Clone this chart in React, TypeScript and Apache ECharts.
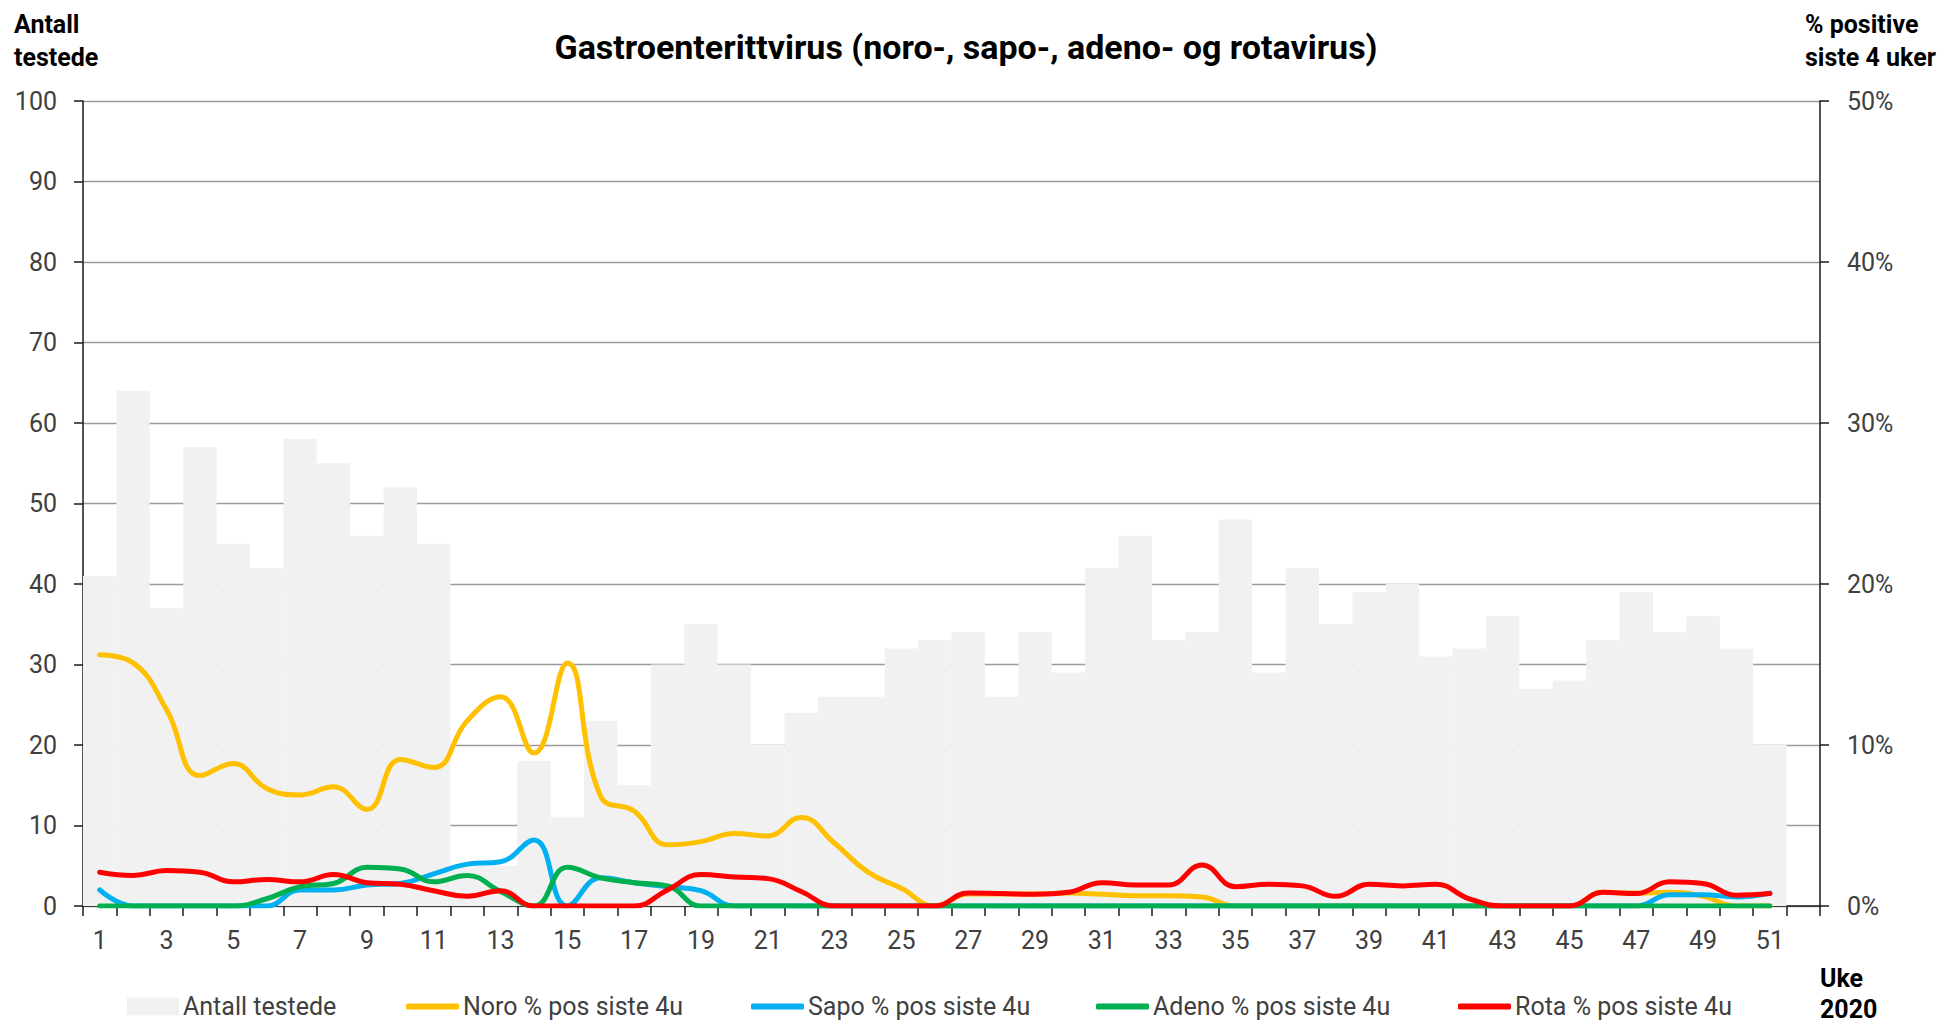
import React, { useEffect, useRef } from "react";
import * as echarts from "echarts";

const weeks = ["1","2","3","4","5","6","7","8","9","10","11","12","13","14","15","16","17","18","19","20","21","22","23","24","25","26","27","28","29","30","31","32","33","34","35","36","37","38","39","40","41","42","43","44","45","46","47","48","49","50","51","52"];

const antallTestede = [41,64,37,57,45,42,58,55,46,52, 45,5,5,18,11,23,15,30,35,30, 20,24,26,26,32,33,34,26,34,29, 42,46,33,34,48,29,42,35,39,40, 31,32,36,27,28,33,39,34,36,32, 20,null];

const noroPct = [15.6,15.1,12.2,8.1,8.85,7.3,6.9,7.4,6.0,9.1, 8.6,11.5,13.0,9.5,15.1,6.8,5.9,3.8,4.0,4.5, 4.35,5.5,3.9,2.1,1.1,0,0.75,0.75,0.75,0.8, 0.73,0.63,0.63,0.56,0,0,0,0,0,0, 0,0,0,0,0,0.85,0.8,0.85,0.6,0, 0,null];

const sapoPct = [1.0,0,0,0,0,0,1.0,1.0,1.3,1.4, 2.0,2.6,2.75,4.1,0,1.75,1.45,1.2,0.95,0, 0,0,0,0,0,0,0,0,0,0, 0,0,0,0,0,0,0,0,0,0, 0,0,0,0,0,0,0,0.7,0.7,0.56, 0.8,null];

const adenoPct = [0,0,0,0,0,0.45,1.2,1.4,2.4,2.3, 1.5,1.9,0.9,0,2.4,1.75,1.45,1.25,0,0, 0,0,0,0,0,0,0,0,0,0, 0,0,0,0,0,0,0,0,0,0, 0,0,0,0,0,0,0,0,0,0, 0,null];

const rotaPct = [2.1,1.9,2.2,2.1,1.5,1.65,1.5,1.95,1.45,1.35, 0.95,0.6,0.95,0,0,0,0,1.0,1.95,1.8, 1.7,0.9,0,0,0,0,0.8,0.77,0.73,0.85, 1.45,1.3,1.3,2.55,1.2,1.35,1.25,0.6,1.35,1.25, 1.35,0.45,0,0,0,0.85,0.77,1.5,1.4,0.67, 0.77,null];

const leftTicks = [0, 100, 10];
const rightTicks = [0, 50, 10];

const TITLE = "Gastroenterittvirus (noro-, sapo-, adeno- og rotavirus)";
const FONT = "Roboto";
const AXIS_COLOR = "#1a1a1a";
const LABEL_COLOR = "#404040";

const lineSeries = [
  { name: "Noro % pos siste 4u", data: noroPct, color: "#FFC000" },
  { name: "Sapo % pos siste 4u", data: sapoPct, color: "#00B0F0" },
  { name: "Adeno % pos siste 4u", data: adenoPct, color: "#00B050" },
  { name: "Rota % pos siste 4u", data: rotaPct, color: "#FF0000" },
];
const legendLefts = [127, 406, 751, 1096, 1458];

export default function App() {
  const ref = useRef<HTMLDivElement>(null);
  useEffect(() => {
    if (!ref.current) return;
    const chart = echarts.init(ref.current, null, { renderer: "svg" });
    const boldText = (text: string, x: number, y: number, size: number, align = "left") => ({
      type: "text",
      x,
      y,
      style: {
        text,
        fontSize: size,
        fontWeight: "bold",
        fontFamily: FONT,
        fill: "#000",
        align,
        verticalAlign: "middle",
      },
    });
    const legendCommon = {
      top: 994,
      padding: 0,
      selectedMode: false,
      itemGap: 0,
      textStyle: { fontSize: 25, color: LABEL_COLOR, fontFamily: FONT, padding: [0, 0, 0, -1] },
    };
    const option: any = {
      animation: false,
      textStyle: { fontFamily: FONT },
      grid: { left: 83, right: 121, top: 101, bottom: 116 },
      xAxis: {
        type: "category",
        data: weeks,
        boundaryGap: true,
        axisLine: { show: true, lineStyle: { color: AXIS_COLOR, width: 1.5 } },
        axisTick: { show: true, interval: 0, length: 10, lineStyle: { color: AXIS_COLOR, width: 1.5 } },
        axisLabel: { interval: 1, margin: 22, fontSize: 25, color: LABEL_COLOR, fontFamily: FONT },
        splitLine: { show: false },
      },
      yAxis: [
        {
          type: "value",
          min: leftTicks[0],
          max: leftTicks[1],
          interval: leftTicks[2],
          position: "left",
          axisLine: { show: true, lineStyle: { color: AXIS_COLOR, width: 1.5 } },
          axisTick: { show: true, length: 9, lineStyle: { color: AXIS_COLOR, width: 1.5 } },
          axisLabel: { margin: 26, fontSize: 25, color: LABEL_COLOR, fontFamily: FONT },
          splitLine: { show: true, lineStyle: { color: "#9a9a9a", width: 1.3 } },
        },
        {
          type: "value",
          min: rightTicks[0],
          max: rightTicks[1],
          interval: rightTicks[2],
          position: "right",
          axisLine: { show: true, lineStyle: { color: AXIS_COLOR, width: 1.5 } },
          axisTick: { show: true, length: 9, lineStyle: { color: AXIS_COLOR, width: 1.5 } },
          axisLabel: { margin: 27, fontSize: 25, color: LABEL_COLOR, fontFamily: FONT, formatter: "{value}%" },
          splitLine: { show: false },
        },
      ],
      legend: [
        {
          ...legendCommon,
          left: legendLefts[0],
          data: [{ name: "Antall testede", icon: "rect" }],
          itemWidth: 52,
          itemHeight: 18,
        },
        ...lineSeries.map((s, i) => ({
          ...legendCommon,
          left: legendLefts[i + 1],
          data: [{ name: s.name, icon: "roundRect" }],
          itemWidth: 53,
          itemHeight: 6,
        })),
      ],
      graphic: [
        boldText(TITLE, 966, 47, 34, "center"),
        boldText("Antall", 14, 24, 25),
        boldText("testede", 14, 57, 25),
        boldText("% positive", 1805, 24, 25),
        boldText("siste 4 uker", 1805, 57, 25),
        boldText("Uke", 1820, 978, 25),
        boldText("2020", 1820, 1009, 25),
      ],
      series: [
        {
          name: "Antall testede",
          type: "bar",
          yAxisIndex: 0,
          data: antallTestede,
          barCategoryGap: "0%",
          barGap: "0%",
          itemStyle: { color: "#f1f1f1" },
        },
        ...lineSeries.map((s) => ({
          name: s.name,
          type: "line",
          yAxisIndex: 1,
          data: s.data,
          smooth: 0.45,
          symbol: "none",
          showSymbol: false,
          color: s.color,
          lineStyle: { color: s.color, width: 5, cap: "round", join: "round" },
          itemStyle: { color: s.color },
        })),
      ],
    };
    chart.setOption(option);
    return () => chart.dispose();
  }, []);
  return (
    <div
      ref={ref}
      style={{ position: "absolute", left: 0, top: 0, width: 1941, height: 1022, background: "#fff" }}
    />
  );
}
